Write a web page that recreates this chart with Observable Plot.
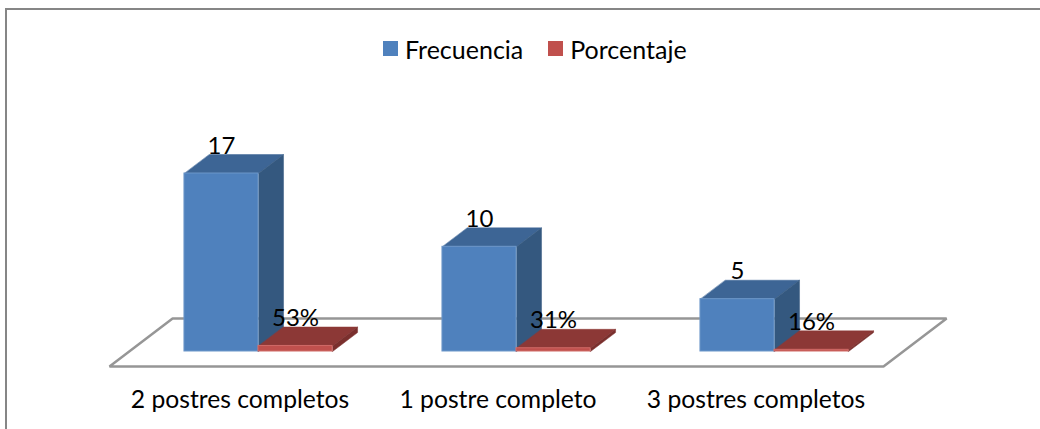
<!DOCTYPE html>
<html>
<head>
<meta charset="utf-8">
<script src="https://cdn.jsdelivr.net/npm/d3@7"></script>
<script src="https://cdn.jsdelivr.net/npm/@observablehq/plot@0.6"></script>
<style>
  html, body { margin: 0; padding: 0; background: #fff; }
  #chart { position: relative; width: 1040px; height: 429px; overflow: hidden; font-family: Lato, "Open Sans", sans-serif; }
  #chart svg { position: absolute; left: 0; top: 0; }
  #frame { position: absolute; left: 5px; top: 8px; width: 1100px; height: 500px; border: 2px solid #868686; box-sizing: border-box; }
  #legend { position: absolute; top: 34px; left: 383px; display: flex; align-items: center; font-size: 25px; color: #000; line-height: 30px; }
  #legend i { display: inline-block; width: 15px; height: 15px; margin-right: 7px; position: relative; top: -1px; }
  #legend span { margin-right: 25px; }
</style>
</head>
<body>
<div id="chart"><div id="frame"></div></div>
<script>
// Survey results: how many complete desserts each respondent had
const categories = ["2 postres completos", "1 postre completo", "3 postres completos"];
const frecuencia = [17, 10, 5];
const porcentaje = [53, 31, 16];
const seriesNames = ["Frecuencia", "Porcentaje"];

const blue = {front: "#4f81bd", top: "#3d6595", side: "#34587f", edge: "#6d97c9"};
const red = {front: "#c0504d", top: "#8c3836", side: "#7a2f2d", edge: "#d06a67"};

// Oblique box geometry, in scale units: one category is one x unit, y is counts
const barWidth = 0.287;
const depthX = 0.097, depthY = 1.81;
const floorFront = -1.43, floorBack = 3.15;
const floorFrontX = -0.5775, floorBackX = -0.333, floorSpan = 3;

// Percentages are drawn as fractions on the same axis as the counts
const bars = [
  ...frecuencia.map((v, i) => ({i, v, x0: i - barWidth, c: blue, label: String(v)})),
  ...porcentaje.map((p, i) => ({i, v: p / 100, x0: i, c: red, label: p + "%"}))
];

// Polygon vertices for the two visible oblique faces of each bar
const faces = bars.flatMap((b, k) => {
  const x1 = b.x0 + barWidth;
  const top = [[b.x0, b.v], [x1, b.v], [x1 + depthX, b.v + depthY], [b.x0 + depthX, b.v + depthY]];
  const side = [[x1, 0], [x1 + depthX, depthY], [x1 + depthX, b.v + depthY], [x1, b.v]];
  return [
    ...top.map(([x, y]) => ({x, y, id: `t${k}`, fill: b.c.top})),
    ...side.map(([x, y]) => ({x, y, id: `s${k}`, fill: b.c.side}))
  ];
});

// Floor parallelogram under the bars
const floor = [
  [floorFrontX, floorFront],
  [floorBackX, floorBack],
  [floorBackX + floorSpan, floorBack],
  [floorFrontX + floorSpan, floorFront]
].map(([x, y]) => ({x, y}));

const pxPerCategory = 258, pxPerUnit = 10.47, originX = 258, originY = 351;

const plot = Plot.plot({
  width: 1040,
  height: 429,
  margin: 0,
  style: {background: "transparent", overflow: "visible"},
  x: {axis: null, domain: [-originX / pxPerCategory, (1040 - originX) / pxPerCategory], range: [0, 1040]},
  y: {axis: null, domain: [(originY - 429) / pxPerUnit, originY / pxPerUnit], range: [429, 0]},
  marks: [
    Plot.line(floor, {x: "x", y: "y", stroke: "#969696", strokeWidth: 2.5, strokeLinejoin: "miter", curve: "linear-closed"}),
    Plot.line(faces, {x: "x", y: "y", z: "id", fill: "fill", stroke: "fill", strokeWidth: 0.5, curve: "linear-closed"}),
    Plot.rect(bars, {
      x1: "x0",
      x2: d => d.x0 + barWidth,
      y1: 0,
      y2: "v",
      fill: d => d.c.front,
      stroke: d => d.c.edge,
      strokeWidth: 1
    }),
    Plot.text(bars, {
      x: d => d.x0 + barWidth / 2,
      y: d => d.v + depthY,
      text: "label",
      lineAnchor: "bottom",
      dy: -1,
      fontSize: 24,
      fill: "#000",
      fontFamily: "Lato, 'Open Sans', sans-serif"
    }),
    Plot.text(categories, {
      x: (d, i) => i - 0.0717,
      y: floorFront,
      text: d => d,
      dy: 34,
      fontSize: 24.7,
      fill: "#000",
      fontFamily: "Lato, 'Open Sans', sans-serif"
    })
  ]
});
const chart = document.getElementById("chart");
chart.appendChild(plot);

// Legend row above the plot
const legend = document.createElement("div");
legend.id = "legend";
[blue.front, red.front].forEach((color, i) => {
  const swatch = document.createElement("i");
  swatch.style.background = color;
  const name = document.createElement("span");
  name.textContent = seriesNames[i];
  legend.append(swatch, name);
});
chart.appendChild(legend);
</script>
</body>
</html>
